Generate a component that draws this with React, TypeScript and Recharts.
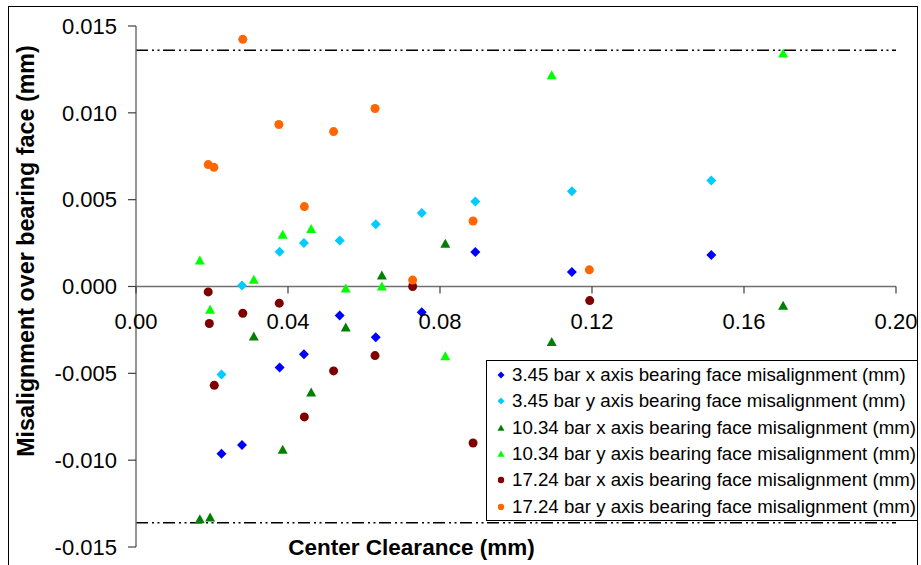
import React from "react";
import {
  ScatterChart,
  Scatter,
  XAxis,
  YAxis,
  ReferenceLine,
  Legend,
} from "recharts";

// center clearance (mm) for each test series
const clearance345 = [0.0225, 0.0279, 0.0378, 0.0442, 0.0536, 0.0631, 0.0752, 0.0893, 0.1147, 0.1514];
const clearance1034 = [0.0168, 0.0195, 0.031, 0.0386, 0.0461, 0.0552, 0.0647, 0.0814, 0.1094, 0.1703];
const clearance1724x = [0.019, 0.0193, 0.0206, 0.0281, 0.0377, 0.0443, 0.052, 0.0629, 0.0728, 0.0887, 0.1194];
const clearance1724y = [0.019, 0.0205, 0.0281, 0.0376, 0.0443, 0.052, 0.0629, 0.0728, 0.0887, 0.1193];

// misalignment over bearing face (mm)
const bar345X = [-0.00963, -0.00913, -0.00467, -0.0039, -0.00167, -0.00292, -0.00148, 0.00198, 0.00083, 0.00181];
const bar345Y = [-0.00507, 0.00006, 0.002, 0.0025, 0.00265, 0.00358, 0.00423, 0.0049, 0.00548, 0.00611];
const bar1034X = [-0.0134, -0.0133, -0.00288, -0.0094, -0.00611, -0.00236, 0.00063, 0.00246, -0.00319, -0.00111];
const bar1034Y = [0.0015, -0.00134, 0.00039, 0.00298, 0.00331, -0.00012, 0.0, -0.00402, 0.01217, 0.01342];
const bar1724X = [-0.00031, -0.00213, -0.00569, -0.00154, -0.00096, -0.00751, -0.00486, -0.00398, 0.0, -0.00901, -0.00081];
const bar1724Y = [0.00702, 0.00686, 0.01423, 0.00933, 0.0046, 0.00892, 0.01025, 0.00037, 0.00377, 0.00096];

// tolerance limits and axis ticks
const limits = [0.0136, -0.0136];
const xTicks = [0, 0.04, 0.08, 0.12, 0.16, 0.2];
const yTicks = [-0.015, -0.01, -0.005, 0, 0.005, 0.01, 0.015];

const FONT = '"Liberation Sans", Arial, sans-serif';
const W = 921;
const H = 565;
const TOP = 26;
const BOTTOM = 17;
const X_AXIS_H = 1;
// x axis crosses at y = 0, which sits in the middle of the symmetric y range
const ZERO_Y = TOP + (H - TOP - BOTTOM - X_AXIS_H) / 2;

const pts = (xs: number[], ys: number[]) => xs.map((x, i) => ({ x, y: ys[i] }));

const Diamond = ({ cx, cy, fill, r = 5 }: any) => (
  <polygon points={`${cx},${cy - r} ${cx + r},${cy} ${cx},${cy + r} ${cx - r},${cy}`} fill={fill} />
);
const Triangle = ({ cx, cy, fill, r = 5 }: any) => (
  <polygon points={`${cx},${cy - r} ${cx + r},${cy + r * 0.8} ${cx - r},${cy + r * 0.8}`} fill={fill} />
);
const Dot = ({ cx, cy, fill, r = 4.5 }: any) => <circle cx={cx} cy={cy} r={r} fill={fill} />;

const series = [
  { name: "3.45 bar x axis bearing face misalignment (mm)", data: pts(clearance345, bar345X), color: "#0000FF", Shape: Diamond },
  { name: "3.45 bar y axis bearing face misalignment (mm)", data: pts(clearance345, bar345Y), color: "#00CCFF", Shape: Diamond },
  { name: "10.34 bar x axis bearing face misalignment (mm)", data: pts(clearance1034, bar1034X), color: "#008000", Shape: Triangle },
  { name: "10.34 bar y axis bearing face misalignment (mm)", data: pts(clearance1034, bar1034Y), color: "#00FF00", Shape: Triangle },
  { name: "17.24 bar x axis bearing face misalignment (mm)", data: pts(clearance1724x, bar1724X), color: "#800000", Shape: Dot },
  { name: "17.24 bar y axis bearing face misalignment (mm)", data: pts(clearance1724y, bar1724Y), color: "#FF6600", Shape: Dot },
];

const XTick = ({ x, payload }: any) => (
  <g>
    <line x1={x} x2={x} y1={ZERO_Y} y2={ZERO_Y + 7} stroke="#404040" strokeWidth={1.2} />
    <text x={x} y={ZERO_Y + 42} textAnchor="middle" fontSize={22} fontFamily={FONT} fill="#000">
      {Number(payload.value).toFixed(2)}
    </text>
  </g>
);

const LegendBox = ({ payload }: any) => {
  const shown = new Set((payload || []).map((e: any) => e.value));
  return (
    <div
      style={{
        border: "1px solid #000",
        background: "#fff",
        padding: "1px 0 2px 0",
        fontFamily: FONT,
        fontSize: 18.7,
        color: "#000",
        boxSizing: "border-box",
        width: 432,
        height: 161,
      }}
    >
      {series
        .filter((s) => shown.has(s.name))
        .map((s) => (
          <div key={s.name} style={{ display: "flex", alignItems: "center", height: 26.3, whiteSpace: "nowrap" }}>
            <svg width={25} height={14} style={{ flex: "none" }}>
              <s.Shape cx={14} cy={7} r={s.Shape === Dot ? 3.2 : 3.5} fill={s.color} />
            </svg>
            <span>{s.name}</span>
          </div>
        ))}
    </div>
  );
};

export default function App() {
  return (
    <div style={{ position: "absolute", left: 0, top: 0, width: W, height: H, background: "#fff", overflow: "hidden" }}>
      <ScatterChart width={W} height={H} margin={{ top: TOP, right: 25, bottom: BOTTOM, left: 0 }}>
        <XAxis
          type="number"
          dataKey="x"
          domain={[0, 0.2]}
          ticks={xTicks}
          interval={0}
          height={X_AXIS_H}
          axisLine={false}
          tickLine={false}
          tick={<XTick />}
        />
        <YAxis
          type="number"
          dataKey="y"
          domain={[-0.015, 0.015]}
          ticks={yTicks}
          interval={0}
          width={136}
          tickSize={8}
          tickMargin={11}
          tickFormatter={(v: number) => v.toFixed(3)}
          axisLine={{ stroke: "#707070", strokeWidth: 1.5 }}
          tickLine={{ stroke: "#404040", strokeWidth: 1.2 }}
          tick={{ fontSize: 22, fontFamily: FONT, fill: "#000" }}
        />
        <ReferenceLine y={0} stroke="#707070" strokeWidth={1.5} />
        {limits.map((v) => (
          <ReferenceLine key={v} y={v} stroke="#000" strokeWidth={1.5} strokeDasharray="12 4 2 3.5 2 3.5" />
        ))}
        {series.map((s) => (
          <Scatter
            key={s.name}
            name={s.name}
            data={s.data}
            fill={s.color}
            shape={(p: any) => <s.Shape cx={p.cx} cy={p.cy} fill={s.color} />}
            isAnimationActive={false}
          />
        ))}
        <Legend
          layout="vertical"
          align="center"
          verticalAlign="middle"
          content={<LegendBox />}
          wrapperStyle={{ left: 486, top: 360, width: 432, height: 161 }}
        />
        <text
          x={33.5}
          y={251}
          transform="rotate(-90 33.5 251)"
          textAnchor="middle"
          fontSize={23.3}
          fontWeight="bold"
          fontFamily={FONT}
          fill="#000"
        >
          Misalignment over bearing face (mm)
        </text>
        <text x={411.5} y={555} textAnchor="middle" fontSize={22.5} fontWeight="bold" fontFamily={FONT} fill="#000">
          Center Clearance (mm)
        </text>
      </ScatterChart>
      <div
        style={{
          position: "absolute",
          left: 8,
          top: 6,
          width: 910,
          height: 620,
          border: "1.5px solid #000",
          boxSizing: "border-box",
          pointerEvents: "none",
        }}
      />
    </div>
  );
}
